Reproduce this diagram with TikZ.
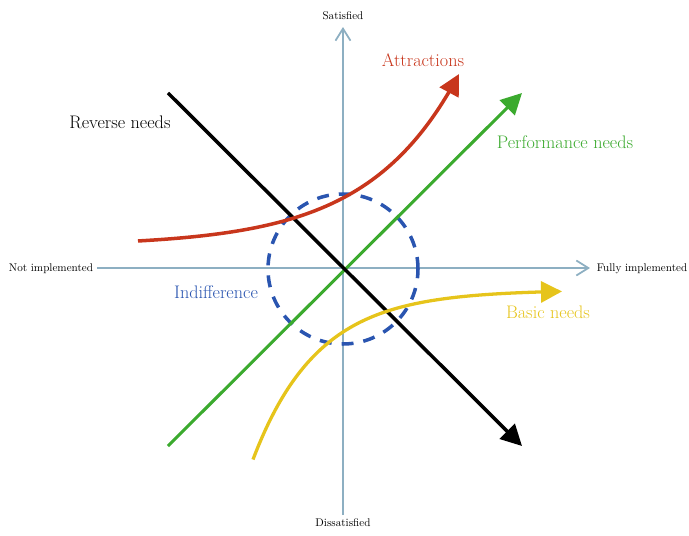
\documentclass[tikz,border=0pt]{standalone}
\usepackage{amsmath}
\usepackage{tikz}
\usetikzlibrary{arrows.meta}

\definecolor{axisgrey}{HTML}{8DAFC2}
\definecolor{attrred}{HTML}{C8361C}
\definecolor{perfgreen}{HTML}{3BAA2E}
\definecolor{basicyellow}{HTML}{E6C41B}
\definecolor{indiffblue}{HTML}{2A55B0}

\begin{document}
\begin{tikzpicture}[x=0.3mm, y=0.3mm,
    small/.style={font=\fontsize{9.5}{11}\selectfont},
    big/.style={font=\fontsize{15.5}{18}\selectfont},
    need/.style={-{Triangle[length=6.3mm, width=6.3mm]}}]
    \useasboundingbox (-343, -267) rectangle (346, 268);

    % axes
    \coordinate (left) at (-246, 0);
    \coordinate (right) at (247, 0);
    \coordinate (bottom) at (0, -247);
    \coordinate (top) at (0, 241);
    \draw[axisgrey, line width=1.5pt, -{Straight Barb[length=3.6mm, width=4.5mm]}] 
            (left) -- (right);
    \draw[axisgrey, line width=1.5pt, -{Straight Barb[length=3.6mm, width=4.5mm]}] 
            (bottom) -- (top);
    \node[small] (sat) at (0, 252) {Satisfied};
    \node[small] (dissat) at (0, -255) {Dissatisfied};
    \node[small] (notimpl) at (-292, -1) {Not implemented};
    \node[small] (fullimpl) at (299, -1) {Fully implemented};

    % indifference zone
    \draw[indiffblue, line width=3pt, dash pattern=on 3.6mm off 3mm] 
            (0, -1) circle (75);
    \node[big, indiffblue] (indiff) at (-127, -24) {Indifference};

    % straight needs
    \coordinate (rev start) at (-175, 175);
    \coordinate (rev end) at (179, -178);
    \coordinate (perf start) at (-175, -178);
    \coordinate (perf end) at (179, 175);
    \draw[perfgreen, line width=2.6pt, need] (perf start) -- (perf end);
    \draw[black, line width=3pt, need] (rev start) -- (rev end);
    \node[big, perfgreen] (perf) at (222, 126) {Performance needs};
    \node[big] (rev) at (-223, 146) {Reverse needs};

    % curved needs
    \draw[attrred, line width=3pt, need, domain=-205:116, samples=100] 
            plot (\x, {22+48*exp(0.011*\x)});
    \draw[basicyellow, line width=2.8pt, need, domain=-90:219, samples=100] 
            plot (\x, {-22-42*exp(-0.0155*\x)});
    \node[big, attrred] (attr) at (80, 208) {Attractions};
    \node[big, basicyellow] (basic) at (205, -44) {Basic needs};
\end{tikzpicture}
\end{document}
